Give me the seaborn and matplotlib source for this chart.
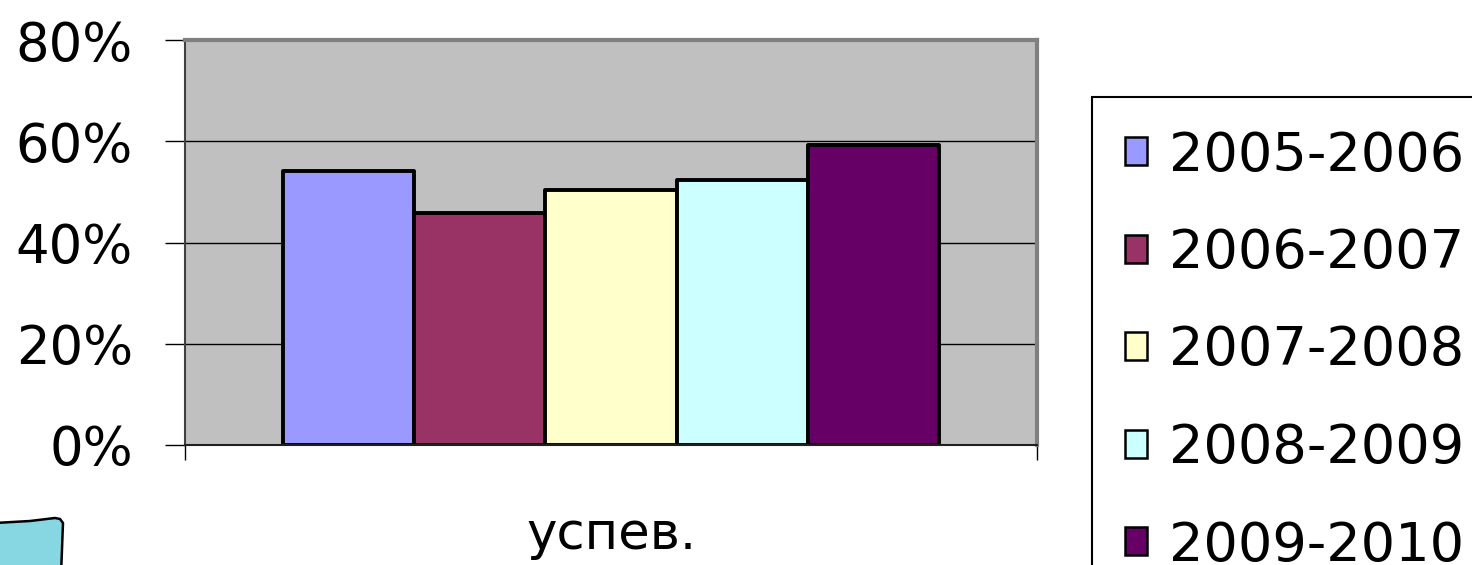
import matplotlib
matplotlib.use("Agg")
import matplotlib.pyplot as plt
import seaborn as sns
import pandas as pd
from matplotlib.patches import Polygon, Rectangle
from matplotlib.ticker import PercentFormatter

categories = ["успев."]
years = ["2005-2006", "2006-2007", "2007-2008", "2008-2009", "2009-2010"]
values = [0.542, 0.458, 0.504, 0.524, 0.593]
colors = ["#9999FF", "#993366", "#FFFFCC", "#CCFFFF", "#660066"]
yticks = [0.0, 0.2, 0.4, 0.6, 0.8]

df = pd.DataFrame({"cat": categories * len(years), "year": years, "value": values})

sns.set_theme(style="white")
plt.rcParams["font.family"] = ["DejaVu Sans"]

W, H = 1472, 565
fig = plt.figure(figsize=(W / 100, H / 100), dpi=100)
ax = fig.add_axes([185 / W, 1 - 445 / H, (1037 - 185) / W, (445 - 40) / H])

sns.barplot(data=df, x="cat", y="value", hue="year", palette=colors,
            width=0.77, dodge=True, saturation=1, edgecolor="black",
            linewidth=2.8, ax=ax)
for p in ax.patches:
    p.set_joinstyle("round")

ax.set_facecolor("#C0C0C0")
ax.set_ylim(0, 0.8)
ax.set_xlim(-0.5, 0.5)
ax.set_yticks(yticks)
ax.yaxis.set_major_formatter(PercentFormatter(1.0, decimals=0))
ax.yaxis.grid(True, color="black", linewidth=1)
ax.set_axisbelow(True)
ax.set_xlabel("")
ax.set_ylabel("")

ax.tick_params(axis="y", which="major", length=14.4, width=1, color="black",
               labelsize=38, pad=23, left=True, labelcolor="black")
ax.tick_params(axis="x", which="major", length=0, labelsize=37, pad=47,
               labelcolor="black")
ax.set_xticks([-0.5, 0.5], minor=True)
ax.tick_params(axis="x", which="minor", length=11, width=1, color="black",
               bottom=True)

for side, col, lw in [("left", "#404040", 1.5), ("bottom", "#202020", 1.5),
                      ("top", "#808080", 3), ("right", "#808080", 3)]:
    ax.spines[side].set_visible(True)
    ax.spines[side].set_color(col)
    ax.spines[side].set_linewidth(lw)

if ax.get_legend() is not None:
    ax.get_legend().remove()
new_handles = [Rectangle((0, 0), 1, 1, facecolor=c, edgecolor="black", linewidth=1.8)
               for c in colors]
leg = fig.legend(new_handles, years, loc="upper left",
                 bbox_to_anchor=(1092 / W, 1 - 97 / H), bbox_transform=fig.transFigure,
                 fontsize=39, frameon=True, fancybox=False, edgecolor="black",
                 facecolor="white", framealpha=1, handlelength=0.42, handleheight=0.42,
                 handletextpad=0.4, labelspacing=0.84, borderpad=0.6, borderaxespad=0,
                 labelcolor="black")
leg.get_frame().set_linewidth(1.5)

pts = [(-5, 523), (30, 521), (55, 518), (60, 519), (63, 523), (61, 575), (-5, 575)]
fig.patches.append(Polygon([(x / W, 1 - y / H) for x, y in pts], closed=True,
                           transform=fig.transFigure, facecolor="#87D7E2",
                           edgecolor="black", linewidth=1.8, joinstyle="round"))

fig.savefig("out.png", dpi=100)
